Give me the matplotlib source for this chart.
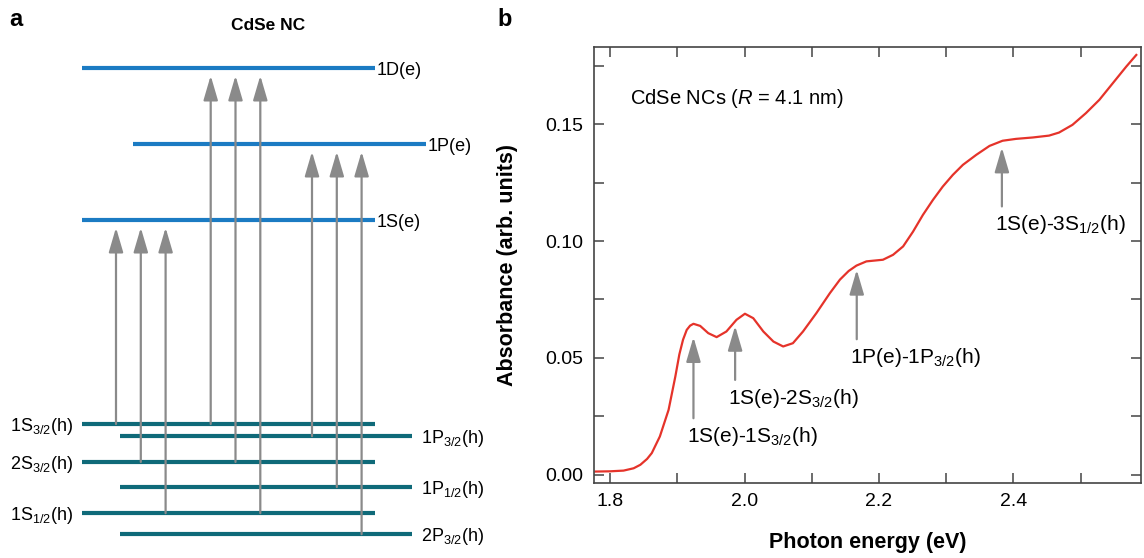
"""CdSe nanocrystal level scheme and absorption spectrum."""

import matplotlib.pyplot as plt
import numpy as np
from matplotlib.ticker import MultipleLocator

plt.rcParams['font.family'] = ['Liberation Sans', 'DejaVu Sans']
plt.rcParams['mathtext.fontset'] = 'custom'
plt.rcParams['mathtext.rm'] = 'Liberation Sans'
plt.rcParams['mathtext.it'] = 'Liberation Sans:italic'
plt.rcParams['mathtext.default'] = 'regular'

# level scheme (arb. energy units, 1S(e) at zero)
electron_levels = ['1S(e)', '1P(e)', '1D(e)']
electron_energy = [0.0, 3.0, 6.0]
hole_levels = ['1S$_{3/2}$(h)', '1P$_{3/2}$(h)', '2S$_{3/2}$(h)',
               '1P$_{1/2}$(h)', '1S$_{1/2}$(h)', '2P$_{3/2}$(h)']
hole_energy = [-8.05, -8.53, -9.55, -10.54, -11.57, -12.40]
# allowed transitions as (hole index, electron index)
transitions = [(0, 0), (2, 0), (4, 0),
               (0, 2), (2, 2), (4, 2),
               (1, 1), (3, 1), (5, 1)]

# absorption spectrum
energy_ev = [1.778, 1.800, 1.820, 1.835, 1.845, 1.855, 1.862, 1.874, 1.887,
             1.897, 1.903, 1.9085, 1.914, 1.919, 1.924, 1.934, 1.946, 1.9585,
             1.973, 1.988, 2.0006, 2.013, 2.028, 2.043, 2.0575, 2.072, 2.087,
             2.107, 2.127, 2.142, 2.155, 2.1666, 2.1814, 2.206, 2.221, 2.236,
             2.2507, 2.2655, 2.2804, 2.295, 2.31, 2.325, 2.345, 2.3646, 2.384,
             2.404, 2.429, 2.4532, 2.468, 2.488, 2.508, 2.528, 2.548, 2.568,
             2.583]
absorbance = [0.0014, 0.0015, 0.0018, 0.0028, 0.0043, 0.0068, 0.0093, 0.0164,
              0.0278, 0.042, 0.0515, 0.0578, 0.0620, 0.0638, 0.0646, 0.0637,
              0.0606, 0.0589, 0.0613, 0.0663, 0.0689, 0.067, 0.0613, 0.057,
              0.0549, 0.0563, 0.0613, 0.0692, 0.0777, 0.0835, 0.0872, 0.0895,
              0.0913, 0.0920, 0.0941, 0.0977, 0.104, 0.1112, 0.1176, 0.1233,
              0.1283, 0.1326, 0.1369, 0.1407, 0.1429, 0.1437, 0.1443, 0.1451,
              0.1464, 0.1497, 0.1547, 0.1604, 0.1675, 0.1746, 0.1796]

peak_labels = ['1S(e)-1S$_{3/2}$(h)', '1S(e)-2S$_{3/2}$(h)',
               '1P(e)-1P$_{3/2}$(h)', '1S(e)-3S$_{1/2}$(h)']
peak_energy = [1.924, 1.986, 2.167, 2.383]
arrow_top = [0.0589, 0.0637, 0.0877, 0.140]
arrow_bottom = [0.0242, 0.0406, 0.058, 0.1148]

E_COLOR = '#1b7bc3'
H_COLOR = '#0f6a79'
ARROW_COLOR = '#8a8a8a'
RED = '#e5332a'

arrow_style = dict(arrowstyle='-|>,head_length=0.75,head_width=0.22',
                   mutation_scale=20, color=ARROW_COLOR, lw=1.6,
                   shrinkA=0, shrinkB=0)

fig = plt.figure(figsize=(11.44, 5.58), dpi=100)

# ---- a: energy levels ----
ax_a = fig.add_axes([0, 0, 480 / 1144, 1])
ax_a.set_xlim(0, 480)
ax_a.set_ylim(-13.34, 8.685)
ax_a.axis('off')

left_span = (82, 375)
right_span = (120, 412)
label_drop = 0.28

for name, e in zip(electron_levels, electron_energy):
    x0, x1 = (133, 426) if 'P' in name else (82, 375)
    ax_a.plot([x0, x1], [e, e], color=E_COLOR, lw=3, solid_capstyle='butt')
    ax_a.text(x1 + 2, e - label_drop, name, fontsize=13, va='baseline')

for name, e in zip(hole_levels, hole_energy):
    if 'P' in name:
        x0, x1 = right_span
        ax_a.text(x1 + 9, e - label_drop, name, fontsize=13, va='baseline')
    else:
        x0, x1 = left_span
        ax_a.text(x0 - 9, e - label_drop, name, fontsize=13, va='baseline',
                  ha='right')
    ax_a.plot([x0, x1], [e, e], color=H_COLOR, lw=3, solid_capstyle='butt')

group_start = {0: 116, 2: 210.7, 1: 312}
step = 24.8
counts = {}
for h, el in transitions:
    k = counts.get(el, 0)
    counts[el] = k + 1
    x = group_start[el] + k * step
    ax_a.annotate('', xy=(x, electron_energy[el] - 0.3),
                  xytext=(x, hole_energy[h]), arrowprops=arrow_style)

fig.text(268 / 1144, 1 - 25 / 558, 'CdSe NC', fontsize=12.5,
         fontweight='bold', ha='center', va='center')
fig.text(9 / 1144, 1 - 20 / 558, 'a', fontsize=17, fontweight='bold',
         va='center')
fig.text(497 / 1144, 1 - 20 / 558, 'b', fontsize=17, fontweight='bold',
         va='center')

# ---- b: absorption spectrum ----
ax_b = fig.add_axes([594 / 1144, 75 / 558, 547 / 1144, 436 / 558])
ax_b.plot(energy_ev, absorbance, color=RED, lw=1.6)
ax_b.set_xlim(1.776, 2.59)
ax_b.set_ylim(-0.0035, 0.183)
ax_b.set_xticks([1.8, 2.0, 2.2, 2.4])
ax_b.set_xticklabels(['1.8', '2.0', '2.2', '2.4'])
ax_b.set_yticks([0.0, 0.05, 0.10, 0.15])
ax_b.set_yticklabels(['0.00', '0.05', '0.10', '0.15'])
ax_b.xaxis.set_minor_locator(MultipleLocator(0.1))
ax_b.yaxis.set_minor_locator(MultipleLocator(0.025))
ax_b.tick_params(which='both', direction='in', top=True, right=True,
                 length=7, width=1.1, color='#444444', labelsize=14)
ax_b.tick_params(axis='y', pad=8)
ax_b.tick_params(axis='x', pad=7)
for sp in ax_b.spines.values():
    sp.set_linewidth(1.2)
    sp.set_color('#444444')

ax_b.set_xlabel('Photon energy (eV)', fontsize=15.5, fontweight='bold',
                labelpad=16)
ax_b.set_ylabel('Absorbance (arb. units)', fontsize=15.5, fontweight='bold',
                labelpad=19)

ax_b.text(1.83, 0.161, 'CdSe NCs ($\\it{R}$ = 4.1 nm)', fontsize=14.5,
          va='center')

for lab, e, top, bot in zip(peak_labels, peak_energy, arrow_top, arrow_bottom):
    ax_b.annotate('', xy=(e, top), xytext=(e, bot), arrowprops=arrow_style)
    ax_b.text(e - 0.01, bot - 0.003, lab, fontsize=15, ha='left', va='top')

fig.savefig('out.png', dpi=100)
